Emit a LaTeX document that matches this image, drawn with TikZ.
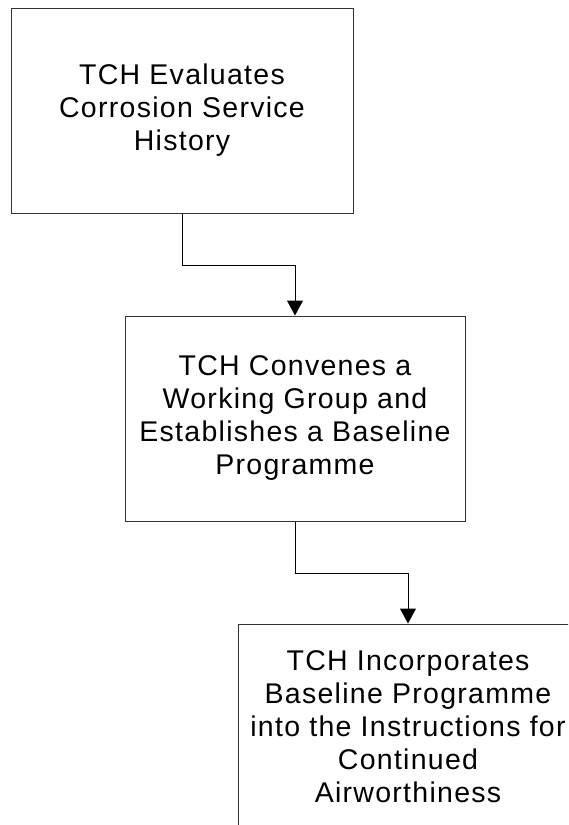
\documentclass[tikz,border=0pt]{standalone}
\usepackage{fontspec}
\setmainfont{Liberation Sans}
\newfontfamily\boxfont[LetterSpace=4.5]{Liberation Sans}
\usetikzlibrary{arrows.meta}
\tikzset{stepbox/.style={draw=black!80, line width=1pt, minimum width=340pt, minimum height=205pt,
  inner sep=0pt, align=center, font=\boxfont\fontsize{28.5pt}{33pt}\selectfont}}
\begin{document}
\begin{tikzpicture}[>={Triangle[width=16pt,length=15pt]}, x=1pt, y=1pt]
\useasboundingbox (0,0) rectangle (568,-825);
\clip (0,0) rectangle (568,-825);
\node[stepbox, minimum width=342pt] (evaluate) at (182,-110.5) {TCH Evaluates\\Corrosion Service\\History};
\node[stepbox] (convene) at (295,-418.5) {TCH Convenes a\\Working Group and\\Establishes a Baseline\\Programme};
\node[stepbox] (incorporate) at (408,-726.5) {TCH Incorporates\\Baseline Programme\\into the Instructions for\\Continued\\Airworthiness};
% elbow connectors
\draw[->, line width=1pt] (evaluate.south) -- ++(0,-51.5) -| (convene.north);
\draw[->, line width=1pt] (convene.south) -- ++(0,-51.5) -| (incorporate.north);
\end{tikzpicture}
\end{document}
